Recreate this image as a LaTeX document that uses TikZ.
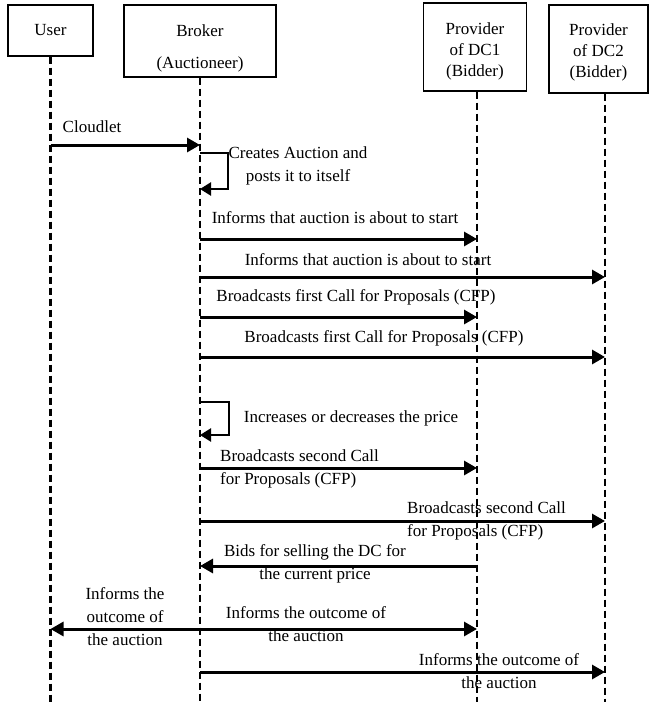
\documentclass[tikz,border=0pt]{standalone}
\usepackage{fontspec}
\setmainfont{Liberation Serif}
\usetikzlibrary{arrows.meta}

\begin{document}
\begin{tikzpicture}[x=1pt,y=-1pt,
    actor/.style={draw,line width=1.4pt,align=center,inner sep=0pt,font=\fontsize{17}{21}\selectfont},
    lifeline/.style={line width=2.2pt,dash pattern=on 7pt off 4pt},
    msg/.style={line width=3pt,-{Triangle[length=13pt,width=14pt]}},
    selfmsg/.style={line width=2.3pt,-{Triangle[length=11pt,width=13pt]}},
    lbl/.style={inner sep=0pt,align=center,font=\fontsize{17}{23}\selectfont}]

    \useasboundingbox (0,0) rectangle (649,702);

    % Participants
    \node[actor,minimum width=85pt,minimum height=51pt] (user) at (50.5,30.5) {User};
    \node[actor,minimum width=152pt,minimum height=72pt] (broker) at (200,41) {\rule{0pt}{26pt}Broker\\[11pt](Auctioneer)};
    \node[actor,minimum width=103pt,minimum height=88pt] (dc1) at (475,47) {\rule{0pt}{20pt}Provider\\of DC1\\(Bidder)};
    \node[actor,minimum width=99pt,minimum height=88pt] (dc2) at (598.5,49) {\rule{0pt}{19pt}Provider\\of DC2\\(Bidder)};

    % Lifelines
    \coordinate (userline) at (user.south);
    \coordinate (brokerline) at (broker.south);
    \coordinate (dc1line) at ([xshift=2pt]dc1.south);
    \coordinate (dc2line) at ([xshift=6.5pt]dc2.south);
    \draw[lifeline] (userline) -- (userline |- 0,702);
    \draw[lifeline] (brokerline) -- (brokerline |- 0,702);
    \draw[lifeline] (dc1line) -- (dc1line |- 0,702);
    \draw[lifeline] (dc2line) -- (dc2line |- 0,702);

    % Auction start
    \draw[msg] (userline |- 0,145) -- (brokerline |- 0,145);
    \node[lbl] (cloudlet) at (92,127) {Cloudlet};
    \draw[selfmsg] (brokerline |- 0,153) -| (228,189) -- (brokerline |- 0,189);
    \node[lbl] (create) at (298,166) {Creates Auction and\\posts it to itself};
    \draw[msg] (brokerline |- 0,239) -- (dc1line |- 0,239);
    \node[lbl] (inform1) at (335,218) {Informs that auction is about to start};
    \draw[msg] (brokerline |- 0,277) -- (dc2line |- 0,277);
    \node[lbl] (inform2) at (368,260) {Informs that auction is about to start};

    % First round
    \draw[msg] (brokerline |- 0,317) -- (dc1line |- 0,317);
    \node[lbl] (cfp1) at (356,297) {Broadcasts first Call for Proposals (CFP)};
    \draw[msg] (brokerline |- 0,357) -- (dc2line |- 0,357);
    \node[lbl] (cfp2) at (384,338) {Broadcasts first Call for Proposals (CFP)};

    % Second round
    \draw[selfmsg] (brokerline |- 0,402) -| (229,435) -- (brokerline |- 0,435);
    \node[lbl] (price) at (351,418) {Increases or decreases the price};
    \draw[msg] (brokerline |- 0,468) -- (dc1line |- 0,468);
    \node[lbl,align=left,anchor=west] (cfp3) at (220,468.5) {Broadcasts second Call\\for Proposals (CFP)};
    \draw[msg] (brokerline |- 0,521) -- (dc2line |- 0,521);
    \node[lbl,align=left,anchor=west] (cfp4) at (407,520.5) {Broadcasts second Call\\for Proposals (CFP)};
    \draw[msg] (dc1line |- 0,566) -- (brokerline |- 0,566);
    \node[lbl] (bid) at (315,563.5) {Bids for selling the DC for\\the current price};

    % Outcome
    \draw[msg] (brokerline |- 0,629) -- (userline |- 0,629);
    \draw[msg] (brokerline |- 0,629) -- (dc1line |- 0,629);
    \node[lbl] (out1) at (125,617) {Informs the\\outcome of\\the auction};
    \node[lbl] (out2) at (306,624.5) {Informs the outcome of\\the auction};
    \draw[msg] (brokerline |- 0,672) -- (dc2line |- 0,672);
    \node[lbl] (out3) at (499,671.5) {Informs the outcome of\\the auction};

\end{tikzpicture}
\end{document}
